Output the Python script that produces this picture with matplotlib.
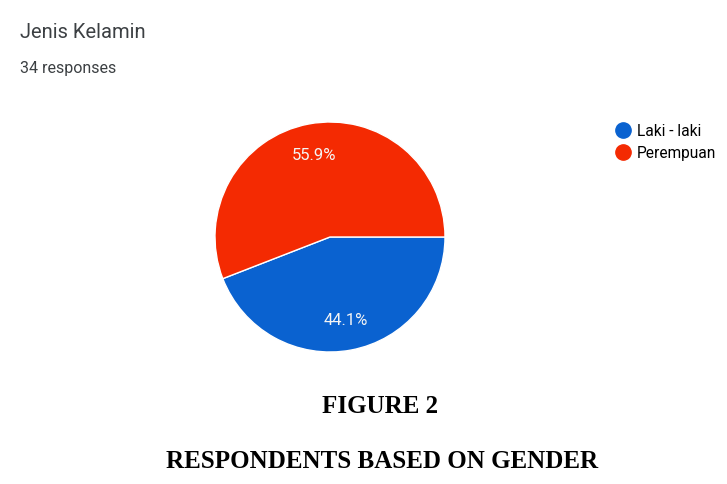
import matplotlib
matplotlib.use("Agg")
import matplotlib.pyplot as plt
from matplotlib.lines import Line2D

title = "Jenis Kelamin"
subtitle = "34 responses"
categories = ["Laki - laki", "Perempuan"]
values = [44.1, 55.9]
colors = ["#0a62d0", "#f42a02"]
caption1 = "FIGURE 2"
caption2 = "RESPONDENTS BASED ON GENDER"

W, H = 727, 485
fig = plt.figure(figsize=(W / 100, H / 100), dpi=100)
fig.patch.set_facecolor("white")

cx, cy, r = 330, 238, 115
ax = fig.add_axes([(cx - r) / W, (H - cy - r) / H, 2 * r / W, 2 * r / H])
wedges, texts, autotexts = ax.pie(
    values, colors=colors, startangle=0, counterclock=False,
    autopct="%.1f%%", pctdistance=0.73,
    wedgeprops=dict(edgecolor="white", linewidth=1),
    textprops=dict(color="#f4f4f4", fontsize=12, family="Roboto"),
)
ax.set_xlim(-1.0, 1.0)
ax.set_ylim(-1.0, 1.0)
ax.set_aspect("equal")
ax.axis("off")

fig.text(20 / W, 1 - 33 / H, title, fontsize=14.5, family="Roboto",
         color="#3c4043", va="center", ha="left")
fig.text(20 / W, 1 - 69 / H, subtitle, fontsize=11.5, family="Roboto",
         color="#3c4043", va="center", ha="left")

handles = [Line2D([0], [0], marker="o", linestyle="none", markersize=11,
                  markerfacecolor=c, markeredgecolor=c) for c in colors]
fig.legend(handles, categories, loc="upper left",
           bbox_to_anchor=(609 / W, 1 - 118 / H), frameon=False,
           prop=dict(family="Roboto", size=11.2), handletextpad=0.4,
           labelspacing=0.45, handlelength=1.0, borderaxespad=0)

fig.text(380 / W, 1 - 407 / H, caption1, fontsize=18, family="Liberation Serif",
         weight="bold", ha="center", va="center", color="black")
fig.text(382 / W, 1 - 462 / H, caption2, fontsize=18, family="Liberation Serif",
         weight="bold", ha="center", va="center", color="black")

fig.savefig("out.png", dpi=100, facecolor="white")
